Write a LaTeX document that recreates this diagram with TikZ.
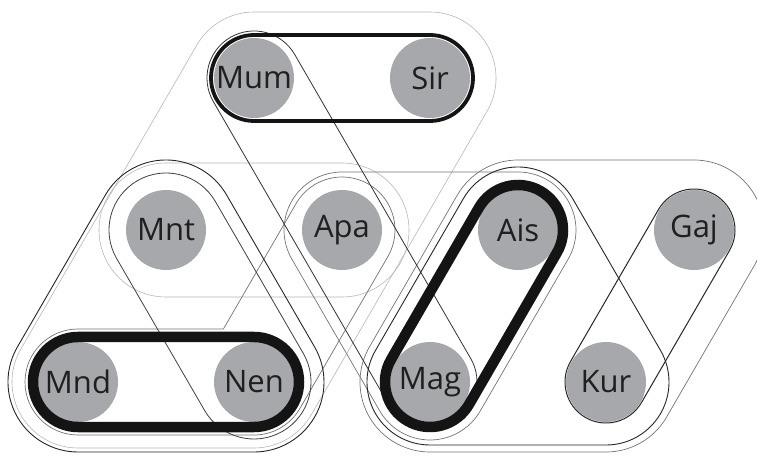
\documentclass[tikz,border=0pt]{standalone}
\usepackage{fontspec}
\setmainfont{Open Sans}
\definecolor{nodegray}{RGB}{166,168,171}
\newcommand{\ha}[4]{-- ([shift={(#2:#4pt)}]#1.center) arc[start angle=#2,end angle=#3,radius=#4pt]}
\newcommand{\hp}[3]{([shift={(#2:#3pt)}]#1.center)}
\tikzset{
  vert/.style={circle, fill=nodegray, minimum size=80pt, inner sep=0pt,
    font=\fontsize{31}{31}\selectfont, text=black!88},
  heavy/.style={draw=black!92, line width=10.5pt},
  medium/.style={draw=black!92, line width=3.8pt},
  thinblack/.style={draw=black!85, line width=0.9pt},
  midgray/.style={draw=black!55, line width=0.7pt},
  faint/.style={draw=black!28, line width=0.6pt}
}
\begin{document}
\begin{tikzpicture}[x=1pt,y=1pt]
\useasboundingbox (0,0) rectangle (757,455);
\clip (0,0) rectangle (757,455);
\fill[white] (0,0) rectangle (757,455);
% vertices
\node[vert] (Mum) at (254,377) {Mum};
\node[vert] (Sir) at (430,377) {Sir};
\node[vert] (Mnt) at (166,225) {Mnt};
\node[vert] (Apa) at (342,225) {Apa};
\node[vert] (Ais) at (518,225) {Ais};
\node[vert] (Gaj) at (694,225) {Gaj};
\node[vert] (Mnd) at (78,73) {Mnd};
\node[vert] (Nen) at (254,73) {Nen};
\node[vert] (Mag) at (430,73) {Mag};
\node[vert] (Kur) at (606,73) {Kur};
% faint large hulls
\draw[faint] \hp{Mnd}{-90}{66} \ha{Nen}{-90}{-30}{66} \ha{Sir}{-30}{90}{66} \ha{Mum}{90}{150}{66} \ha{Mnd}{150}{270}{66} -- cycle;
\draw[faint] \hp{Mnt}{-90}{67} \ha{Apa}{-90}{90}{67} \ha{Mnt}{90}{270}{67} -- cycle;
% right outer hull
\draw[midgray] \hp{Mag}{-90}{70} \ha{Kur}{-90}{-30}{70} \ha{Gaj}{-30}{90}{70} \ha{Ais}{90}{150}{70} \ha{Mag}{150}{270}{70} -- cycle;
% Apa, Ais, Mag
\draw[midgray] \hp{Mag}{-30}{58} \ha{Ais}{-30}{90}{58} \ha{Apa}{90}{210}{58} \ha{Mag}{210}{330}{58} -- cycle;
% Mnd - Nen - Apa path
\draw[midgray] \hp{Mnd}{-90}{53} \ha{Nen}{-90}{-30}{53} \ha{Apa}{-30}{150}{53} -- ([shift={(120:61.2pt)}]Nen.center) \ha{Mnd}{90}{270}{53} -- cycle;
% left triangle
\draw[thinblack] \hp{Mnd}{-90}{70} \ha{Nen}{-90}{30}{70} \ha{Mnt}{30}{150}{70} \ha{Mnd}{150}{270}{70} -- cycle;
% Mnt - Nen
\draw[thinblack, draw=black!75, line width=0.8pt] \hp{Nen}{30}{57} \ha{Mnt}{30}{210}{57} \ha{Nen}{210}{390}{57} -- cycle;
% Mum - Apa - Mag
\draw[thinblack, draw=black!80, line width=0.8pt] \hp{Mag}{30}{47} \ha{Mum}{30}{210}{47} \ha{Mag}{210}{390}{47} -- cycle;
% Ais, Mag, Kur
\draw[thinblack] \hp{Mag}{-90}{63} \ha{Kur}{-90}{30}{63} \ha{Ais}{30}{150}{63} \ha{Mag}{150}{270}{63} -- cycle;
% Kur - Gaj
\draw[thinblack, line width=1pt] \hp{Kur}{-30}{41} \ha{Gaj}{-30}{150}{41} \ha{Kur}{150}{330}{41} -- cycle;
% Mum - Sir
\draw[medium] \hp{Mum}{-90}{43} \ha{Sir}{-90}{90}{43} \ha{Mum}{90}{270}{43} -- cycle;
% Mnd - Nen
\draw[heavy] \hp{Mnd}{-90}{45} \ha{Nen}{-90}{90}{45} \ha{Mnd}{90}{270}{45} -- cycle;
% Mag - Ais
\draw[heavy] \hp{Mag}{-30}{45} \ha{Ais}{-30}{150}{45} \ha{Mag}{150}{330}{45} -- cycle;
\end{tikzpicture}
\end{document}
